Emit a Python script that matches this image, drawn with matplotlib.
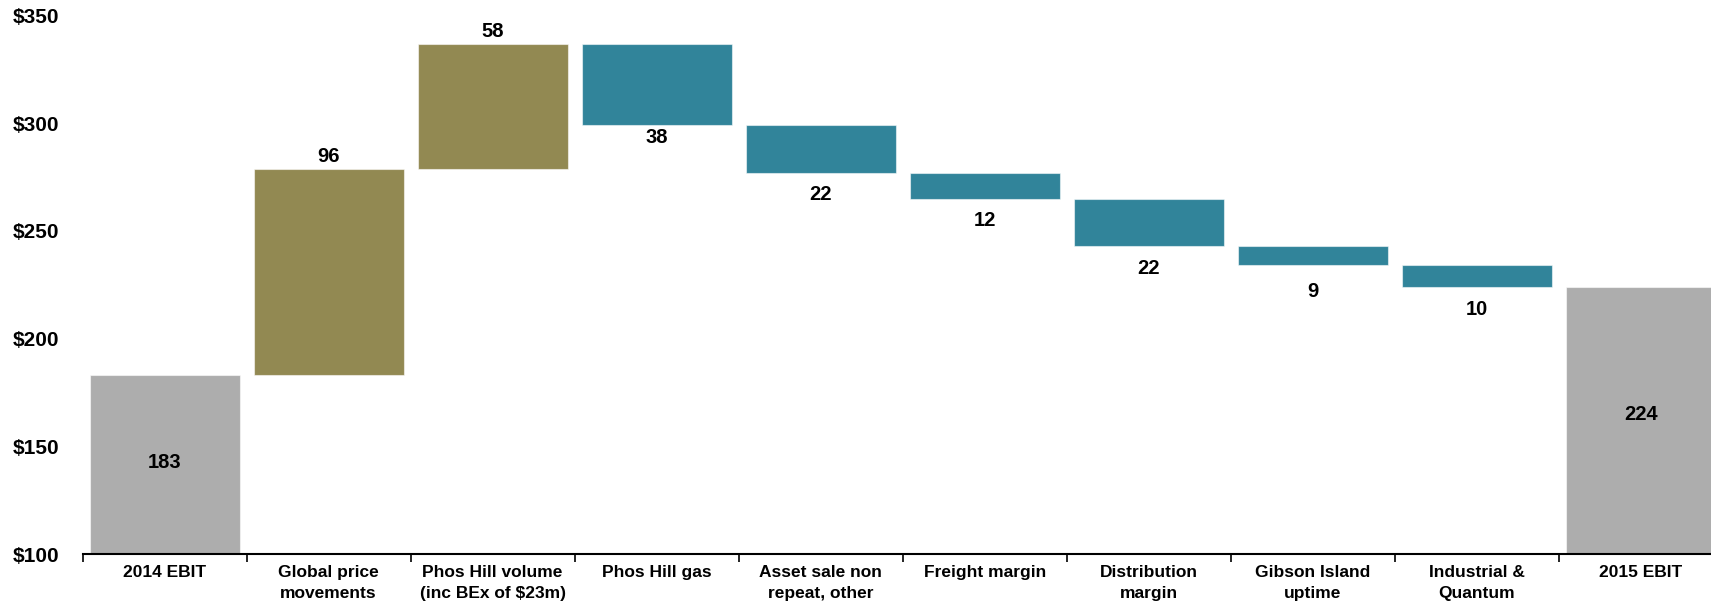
import numpy as np
import matplotlib
matplotlib.use("Agg")
import matplotlib.pyplot as plt

categories = ["2014 EBIT", "Global price\nmovements", "Phos Hill volume\n(inc BEx of $23m)",
              "Phos Hill gas", "Asset sale non\nrepeat, other", "Freight margin",
              "Distribution\nmargin", "Gibson Island\nuptime", "Industrial &\nQuantum", "2015 EBIT"]
start_total = 183
changes = [96, 58, -38, -22, -12, -22, -9, -10]
end_total = 224
yticks = [100, 150, 200, 250, 300, 350]

GREY = "#ADADAD"
OLIVE = "#928952"
TEAL = "#31849A"

plt.rcParams["font.family"] = ["Liberation Sans", "DejaVu Sans"]
plt.rcParams["font.weight"] = "bold"

fig = plt.figure(figsize=(17.11, 6.07), dpi=100)
ax = fig.add_axes([0.0483, 0.0873, 0.9585, 0.8870])

base = 100
x = np.arange(len(categories))
w = 0.915

# running totals for the floating bars
levels = np.concatenate([[start_total], start_total + np.cumsum(changes)])
bottoms = [base]
heights = [start_total - base]
colors = [GREY]
for i, c in enumerate(changes):
    prev = levels[i]
    bottoms.append(min(prev, prev + c))
    heights.append(abs(c))
    colors.append(OLIVE if c > 0 else TEAL)
bottoms.append(base)
heights.append(end_total - base)
colors.append(GREY)

ax.bar(x, heights, bottom=bottoms, width=w, color=colors,
       edgecolor=(1, 1, 1, 0.55), linewidth=0.8, zorder=2)

# value labels
vfs = 14.5
ax.text(x[0], (base + start_total) / 2 + 1, str(start_total), ha="center", va="center",
        fontsize=vfs, fontweight="bold")
ax.text(x[-1], (base + end_total) / 2 + 3, str(end_total), ha="center", va="center",
        fontsize=vfs, fontweight="bold")
below_pad = [0, 0, 12, 22, 22, 22, 26, 23]
for i, c in enumerate(changes):
    xi = x[i + 1]
    if c > 0:
        ax.annotate(str(abs(c)), (xi, bottoms[i + 1] + heights[i + 1]), xytext=(0, 3),
                    textcoords="offset pixels", ha="center", va="bottom",
                    fontsize=vfs, fontweight="bold")
    else:
        ax.annotate(str(abs(c)), (xi, bottoms[i + 1]), xytext=(0, -below_pad[i]),
                    textcoords="offset pixels", ha="center", va="center",
                    fontsize=vfs, fontweight="bold")

ax.set_xlim(-0.5, len(categories) - 0.5)
ax.set_ylim(100, 350)
ax.set_yticks(yticks)
ax.set_yticklabels([f"${v}" for v in yticks], fontsize=15, fontweight="bold")
ax.tick_params(axis="y", length=0, pad=17)

ax.set_xticks(x)
ax.set_xticklabels(categories, fontsize=12.5, fontweight="bold", linespacing=1.45)
ax.set_xticks(np.arange(-0.5, len(categories), 1), minor=True)
ax.tick_params(axis="x", which="major", length=0, pad=8)
ax.tick_params(axis="x", which="minor", length=6, width=1.2, direction="out")

for s in ["top", "right", "left"]:
    ax.spines[s].set_visible(False)
ax.spines["bottom"].set_linewidth(1.5)

fig.savefig("out.png", dpi=100)
